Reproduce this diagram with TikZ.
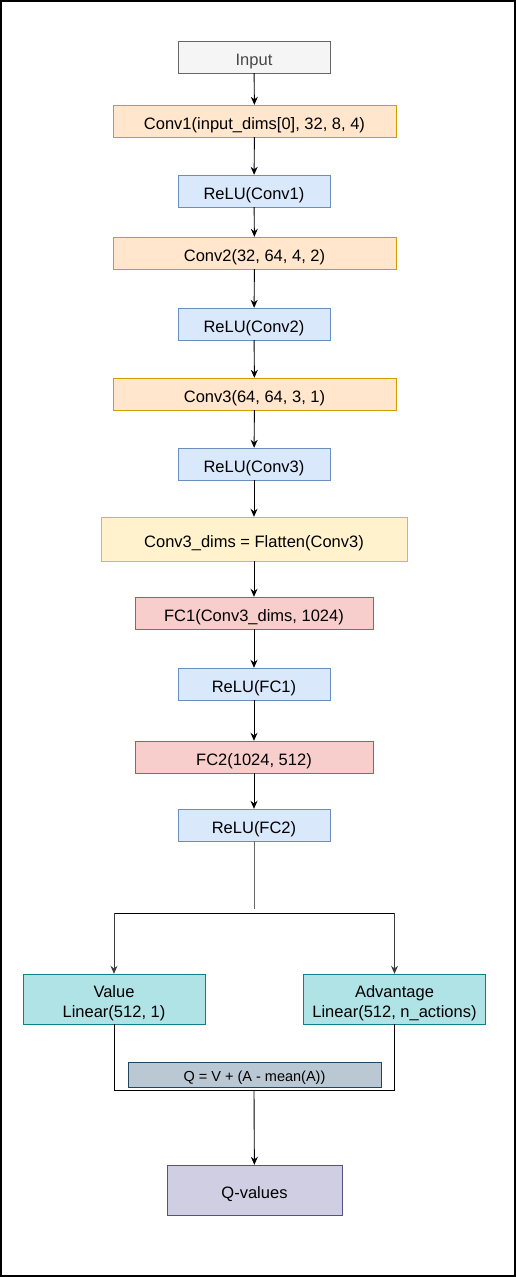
\documentclass[tikz,border=0pt]{standalone}
\usepackage{fontspec}
\setmainfont{Liberation Sans}
\definecolor{inputfill}{HTML}{F5F5F5}
\definecolor{inputline}{HTML}{666666}
\definecolor{convfill}{HTML}{FFE6CC}
\definecolor{convline}{HTML}{D79B00}
\definecolor{relufill}{HTML}{DAE8FC}
\definecolor{reluline}{HTML}{6C8EBF}
\definecolor{flatfill}{HTML}{FFF2CC}
\definecolor{flatline}{HTML}{D6B656}
\definecolor{fcfill}{HTML}{F8CECC}
\definecolor{fcline}{HTML}{B85450}
\definecolor{headfill}{HTML}{B0E3E6}
\definecolor{headline}{HTML}{0E8088}
\definecolor{formfill}{HTML}{BAC8D3}
\definecolor{formline}{HTML}{23445D}
\definecolor{outfill}{HTML}{D0CEE2}
\definecolor{outline}{HTML}{56517E}
\usetikzlibrary{arrows.meta}
\begin{document}
\begin{tikzpicture}[x=1pt,y=-1pt,
  box/.style={draw,inner sep=0pt,minimum height=32,
    text height=17,text depth=1,font=\fontsize{16.5}{20}\selectfont},
  inbox/.style={box,fill=inputfill,draw=inputline,text=inputline!70!black,minimum width=152},
  convbox/.style={box,fill=convfill,draw=convline,minimum width=283},
  relubox/.style={box,fill=relufill,draw=reluline,minimum width=152},
  flatbox/.style={box,fill=flatfill,draw=flatline,minimum width=306,minimum height=44},
  fcbox/.style={box,fill=fcfill,draw=fcline,minimum width=238},
  headbox/.style={box,fill=headfill,draw=headline,minimum width=182,minimum height=50,
    align=center,text height=,text depth=},
  formbox/.style={box,fill=formfill,draw=formline,minimum width=253,minimum height=25,
    text height=15,text depth=0.6,font=\fontsize{14.5}{17}\selectfont},
  outbox/.style={box,fill=outfill,draw=outline,minimum width=175,minimum height=50},
  arr/.style={-{Stealth[length=8pt,width=7pt]},line width=0.9pt}]
\useasboundingbox (0,0) rectangle (516,1277);
% frame
\draw[line width=1.5pt] (1,1) rectangle (515,1276);
% layers
\node[inbox]   (in)   at (254,57)   {Input};
\node[convbox] (c1)   at (254.5,121)  {Conv1(input\_dims[0], 32, 8, 4)};
\node[relubox] (r1)   at (254,191)  {ReLU(Conv1)};
\node[convbox] (c2)   at (254.5,253)  {Conv2(32, 64, 4, 2)};
\node[relubox] (r2)   at (254,324)  {ReLU(Conv2)};
\node[convbox] (c3)   at (254.5,394)  {Conv3(64, 64, 3, 1)};
\node[relubox] (r3)   at (254,464)  {ReLU(Conv3)};
\node[flatbox] (flat) at (254,539)  {Conv3\_dims = Flatten(Conv3)};
\node[fcbox]   (fc1)  at (254,613)  {FC1(Conv3\_dims, 1024)};
\node[relubox] (r4)   at (254,684)  {ReLU(FC1)};
\node[fcbox]   (fc2)  at (254,757)  {FC2(1024, 512)};
\node[relubox] (r5)   at (254,825)  {ReLU(FC2)};
% heads
\node[headbox] (val)  at (114,999)  {\rule{0pt}{20pt}Value\\Linear(512, 1)};
\node[headbox] (adv)  at (394.5,999)  {\rule{0pt}{20pt}Advantage\\Linear(512, n\_actions)};
\node[formbox] (form) at (254.5,1074.5) {Q = V + (A - mean(A))};
\node[outbox]  (q)    at (254.5,1190) {Q-values};
% connectors
\draw[arr] (in) -- (c1);
\draw[arr] (c1) -- (r1);
\draw[arr] (r1) -- (c2);
\draw[arr] (c2) -- (r2);
\draw[arr] (r2) -- (c3);
\draw[arr] (c3) -- (r3);
\draw[arr] (r3) -- (flat);
\draw[arr] (flat) -- (fc1);
\draw[arr] (fc1) -- (r4);
\draw[arr] (r4) -- (fc2);
\draw[arr] (fc2) -- (r5);
\coordinate (split) at (254,913);
\coordinate (join) at (254,1090);
\draw[line width=0.9pt,inputline] (r5.south) -- ([yshift=4]split);
\draw[line width=0.9pt] (val.north |- split) -- (adv.north |- split);
\draw[arr,inputline!60!black] (val.north |- split) -- (val.north);
\draw[arr,inputline!60!black] (adv.north |- split) -- (adv.north);
\draw[line width=0.9pt] (val.south) -- (val.south |- join) -- (adv.south |- join) -- (adv.south);
\draw[arr] (join) -- (q);
\end{tikzpicture}
\end{document}
